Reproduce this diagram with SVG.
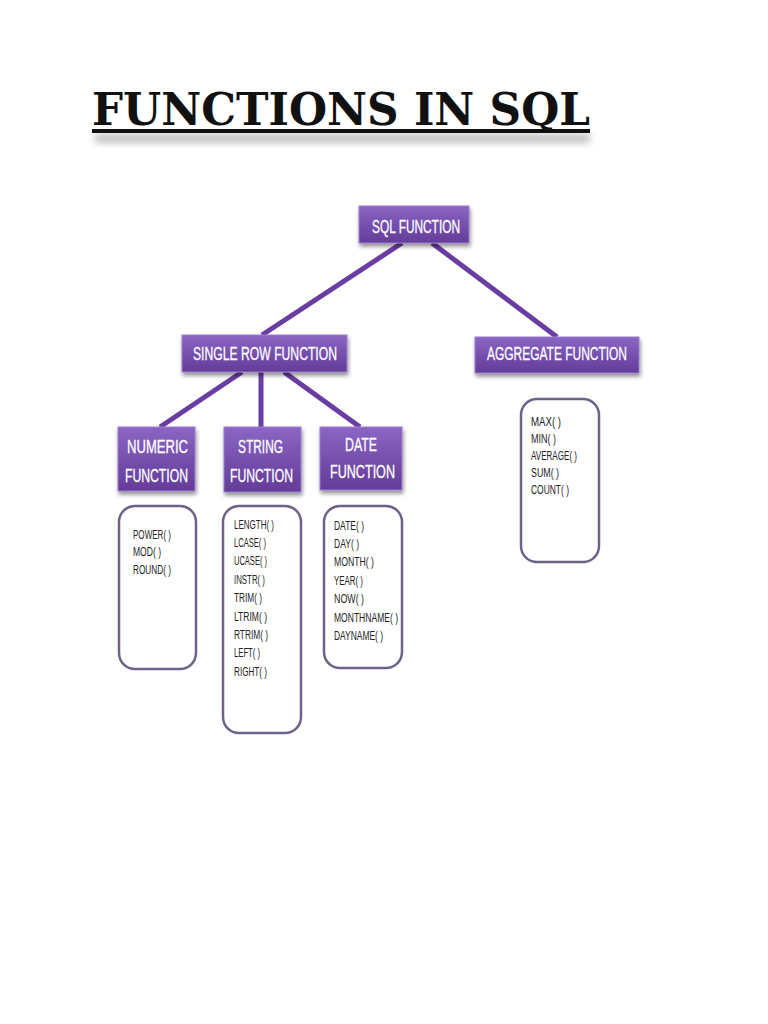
<svg xmlns="http://www.w3.org/2000/svg" width="768" height="1024" viewBox="0 0 768 1024">
<defs>
<linearGradient id="pg" x1="0" y1="0" x2="0" y2="1">
<stop offset="0" stop-color="#8c66c4"/>
<stop offset="0.5" stop-color="#7650ae"/>
<stop offset="1" stop-color="#643c98"/>
</linearGradient>
<filter id="sh" x="-20%" y="-20%" width="140%" height="160%">
<feGaussianBlur in="SourceAlpha" stdDeviation="2"/>
<feOffset dx="1" dy="3" result="b"/>
<feComponentTransfer><feFuncA type="linear" slope="0.45"/></feComponentTransfer>
<feMerge><feMergeNode/><feMergeNode in="SourceGraphic"/></feMerge>
</filter>
<filter id="tsh" x="-10%" y="-50%" width="120%" height="200%">
<feGaussianBlur stdDeviation="3.5"/>
</filter>
</defs>
<style>
.box{fill:url(#pg);stroke:#9a7fcc;stroke-width:1;filter:url(#sh)}
.bt{font-family:"Liberation Sans",Arial,sans-serif;font-size:18.5px;fill:#ffffff;stroke:#ffffff;stroke-width:0.3}
.lst{fill:#ffffff;stroke:#6e6288;stroke-width:2.5}
.it{font-family:"Liberation Sans",Arial,sans-serif;font-size:12.5px;fill:#222222}
.con{stroke:#6a3da3;stroke-width:5;stroke-linecap:butt;fill:none}
</style>
<rect width="768" height="1024" fill="#ffffff"/>
<g id="title">
<rect x="95" y="134" width="495" height="9" fill="#a0a0a0" opacity="0.65" filter="url(#tsh)"/>
<text x="92" y="125" font-family="'DejaVu Serif',serif" font-weight="bold" font-size="44" textLength="498" lengthAdjust="spacingAndGlyphs" fill="#111111">FUNCTIONS IN SQL</text>
<rect x="92" y="129" width="498" height="4" fill="#111111"/>
</g>
<g id="connectors">
<line class="con" x1="402" y1="243" x2="262" y2="335"/>
<line class="con" x1="432" y1="243" x2="557" y2="337"/>
<line class="con" x1="242" y1="372" x2="160" y2="427"/>
<line class="con" x1="261" y1="372" x2="261" y2="427"/>
<line class="con" x1="284" y1="372" x2="360" y2="427"/>
</g>
<g id="sql-function">
<rect class="box" x="359" y="206" width="110" height="37"/>
<text class="bt" x="372" y="233" textLength="88" lengthAdjust="spacingAndGlyphs">SQL FUNCTION</text>
</g>
<g id="single-row-function">
<rect class="box" x="182" y="335" width="165" height="37"/>
<text class="bt" x="193" y="360" textLength="144" lengthAdjust="spacingAndGlyphs">SINGLE ROW FUNCTION</text>
</g>
<g id="aggregate-function">
<rect class="box" x="475" y="337" width="164" height="36"/>
<text class="bt" x="487" y="360" textLength="140" lengthAdjust="spacingAndGlyphs">AGGREGATE FUNCTION</text>
</g>
<g id="numeric-function">
<rect class="box" x="118" y="427" width="77" height="64"/>
<text class="bt" x="127" y="453" textLength="61" lengthAdjust="spacingAndGlyphs">NUMERIC</text>
<text class="bt" x="125" y="482" textLength="63" lengthAdjust="spacingAndGlyphs">FUNCTION</text>
</g>
<g id="string-function">
<rect class="box" x="224" y="427" width="77" height="65"/>
<text class="bt" x="238" y="453" textLength="45" lengthAdjust="spacingAndGlyphs">STRING</text>
<text class="bt" x="230" y="482" textLength="63" lengthAdjust="spacingAndGlyphs">FUNCTION</text>
</g>
<g id="date-function">
<rect class="box" x="320" y="427" width="82" height="63"/>
<text class="bt" x="345" y="451" textLength="32" lengthAdjust="spacingAndGlyphs">DATE</text>
<text class="bt" x="330" y="478" textLength="65" lengthAdjust="spacingAndGlyphs">FUNCTION</text>
</g>
<g id="numeric-list">
<rect class="lst" x="119" y="506" width="77" height="163" rx="16"/>
<text class="it" x="133" y="539" textLength="38" lengthAdjust="spacingAndGlyphs">POWER( )</text>
<text class="it" x="133" y="556" textLength="28" lengthAdjust="spacingAndGlyphs">MOD( )</text>
<text class="it" x="133" y="574" textLength="38" lengthAdjust="spacingAndGlyphs">ROUND( )</text>
</g>
<g id="string-list">
<rect class="lst" x="223" y="506" width="78" height="227" rx="16"/>
<text class="it" x="234" y="529" textLength="40" lengthAdjust="spacingAndGlyphs">LENGTH( )</text>
<text class="it" x="234" y="547" textLength="32" lengthAdjust="spacingAndGlyphs">LCASE( )</text>
<text class="it" x="234" y="565" textLength="33" lengthAdjust="spacingAndGlyphs">UCASE( )</text>
<text class="it" x="234" y="584" textLength="31" lengthAdjust="spacingAndGlyphs">INSTR( )</text>
<text class="it" x="234" y="602" textLength="28" lengthAdjust="spacingAndGlyphs">TRIM( )</text>
<text class="it" x="234" y="621" textLength="33" lengthAdjust="spacingAndGlyphs">LTRIM( )</text>
<text class="it" x="234" y="639" textLength="34" lengthAdjust="spacingAndGlyphs">RTRIM( )</text>
<text class="it" x="234" y="657" textLength="26" lengthAdjust="spacingAndGlyphs">LEFT( )</text>
<text class="it" x="234" y="676" textLength="33" lengthAdjust="spacingAndGlyphs">RIGHT( )</text>
</g>
<g id="date-list">
<rect class="lst" x="324" y="506" width="78" height="162" rx="16"/>
<text class="it" x="334" y="530" textLength="30" lengthAdjust="spacingAndGlyphs">DATE( )</text>
<text class="it" x="334" y="548" textLength="25" lengthAdjust="spacingAndGlyphs">DAY( )</text>
<text class="it" x="334" y="566" textLength="40" lengthAdjust="spacingAndGlyphs">MONTH( )</text>
<text class="it" x="334" y="585" textLength="29" lengthAdjust="spacingAndGlyphs">YEAR( )</text>
<text class="it" x="334" y="603" textLength="30" lengthAdjust="spacingAndGlyphs">NOW( )</text>
<text class="it" x="334" y="622" textLength="64" lengthAdjust="spacingAndGlyphs">MONTHNAME( )</text>
<text class="it" x="334" y="640" textLength="49" lengthAdjust="spacingAndGlyphs">DAYNAME( )</text>
</g>
<g id="aggregate-list">
<rect class="lst" x="521" y="399" width="78" height="163" rx="16"/>
<text class="it" x="531" y="426" textLength="30" lengthAdjust="spacingAndGlyphs">MAX( )</text>
<text class="it" x="531" y="443" textLength="25" lengthAdjust="spacingAndGlyphs">MIN( )</text>
<text class="it" x="531" y="460" textLength="46" lengthAdjust="spacingAndGlyphs">AVERAGE( )</text>
<text class="it" x="531" y="477" textLength="28" lengthAdjust="spacingAndGlyphs">SUM( )</text>
<text class="it" x="531" y="494" textLength="38" lengthAdjust="spacingAndGlyphs">COUNT( )</text>
</g>
</svg>
